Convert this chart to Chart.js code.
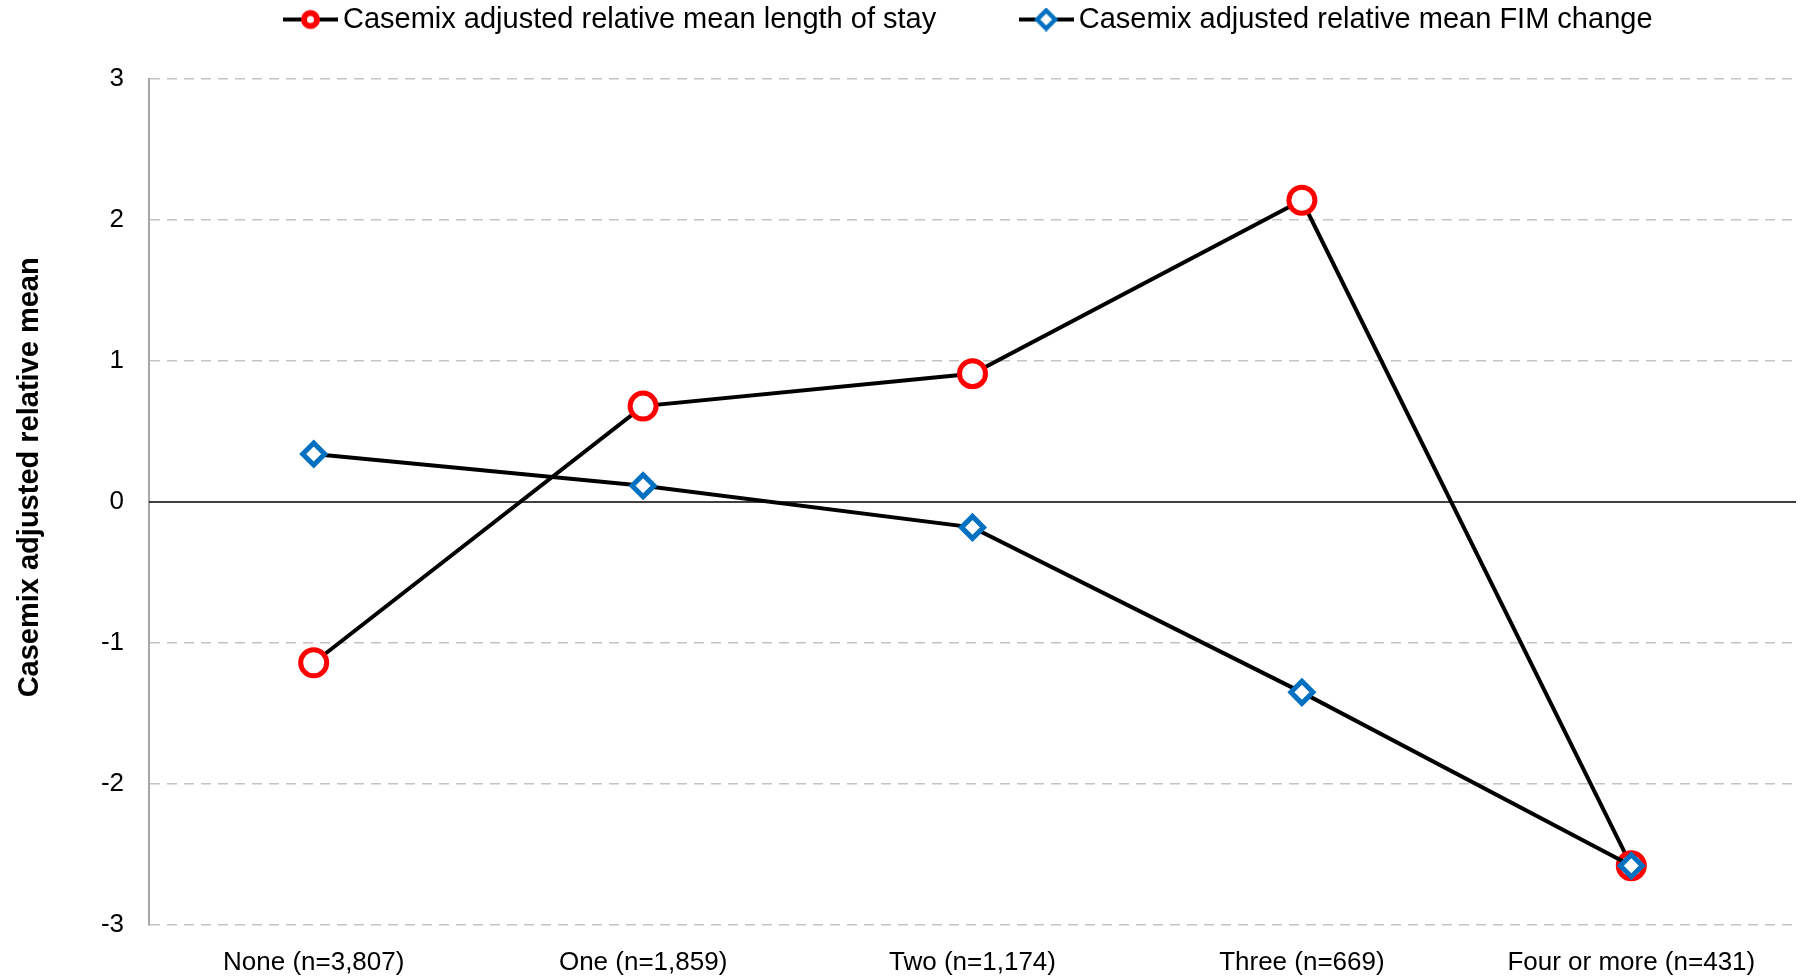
<!DOCTYPE html>
<html>
<head>
<meta charset="utf-8">
<script src="https://cdn.jsdelivr.net/npm/chart.js@4.4.1/dist/chart.umd.min.js"></script>
<style>
    html, body { margin: 0; padding: 0; background: #ffffff; overflow: hidden; }
    #wrap { width: 1814px; height: 978px; }
    canvas { display: block; }
</style>
</head>
<body>
<div id="wrap"><canvas id="chart" width="1814" height="978"></canvas></div>
<script>
// Chart data
const categories = ['None (n=3,807)', 'One (n=1,859)', 'Two (n=1,174)', 'Three (n=669)', 'Four or more (n=431)'];
const lengthOfStay = [-1.14, 0.68, 0.91, 2.14, -2.58];
const fimChange = [0.34, 0.115, -0.18, -1.35, -2.58];
const yTicks = [-3, -2, -1, 0, 1, 2, 3];
const seriesNames = ['Casemix adjusted relative mean length of stay', 'Casemix adjusted relative mean FIM change'];
const yTitle = 'Casemix adjusted relative mean';

const FONT = "'Liberation Sans', Arial, sans-serif";
const RED = '#ff0000';
const BLUE = '#0070c0';

// Small line + marker picture for the legend
function legendIcon(kind, color) {
    const c = document.createElement('canvas');
    c.width = 55;
    c.height = 24;
    const ctx = c.getContext('2d');
    ctx.strokeStyle = '#000';
    ctx.lineWidth = 4;
    ctx.beginPath();
    ctx.moveTo(0, 12);
    ctx.lineTo(55, 12);
    ctx.stroke();
    ctx.strokeStyle = color;
    ctx.fillStyle = '#fff';
    ctx.beginPath();
    if (kind === 'circle') {
        ctx.lineWidth = 6;
        ctx.arc(27.5, 12, 6.5, 0, Math.PI * 2);
    } else {
        ctx.lineWidth = 4.5;
        ctx.moveTo(27.5, 3);
        ctx.lineTo(36.5, 12);
        ctx.lineTo(27.5, 21);
        ctx.lineTo(18.5, 12);
        ctx.closePath();
    }
    ctx.fill();
    ctx.stroke();
    return c;
}
const icons = [legendIcon('circle', RED), legendIcon('diamond', BLUE)];

// Black solid line at zero, the other grid lines stay dashed
const zeroLine = {
    id: 'zeroLine',
    beforeDatasetsDraw(chart) {
        const y = chart.scales.y.getPixelForValue(0);
        const area = chart.chartArea;
        const ctx = chart.ctx;
        ctx.save();
        ctx.strokeStyle = '#000';
        ctx.lineWidth = 1.5;
        ctx.beginPath();
        ctx.moveTo(area.left, y);
        ctx.lineTo(area.right, y);
        ctx.stroke();
        ctx.restore();
    }
};

// Fix legend height so the plot starts where it does in the original
const legendHeight = {
    id: 'legendHeight',
    beforeUpdate(chart) {
        const lg = chart.legend;
        if (lg && !lg._fixed) {
            const fit = lg.fit;
            lg.fit = function () {
                fit.call(this);
                this.height = 79;
            };
            lg._fixed = true;
        }
    }
};

const chart = new Chart(document.getElementById('chart'), {
    type: 'line',
    data: {
        labels: categories,
        datasets: [{
            label: seriesNames[0],
            data: lengthOfStay,
            borderColor: '#000',
            borderWidth: 4,
            pointStyle: 'circle',
            pointRadius: 13,
            pointBorderWidth: 5,
            pointBorderColor: RED,
            pointBackgroundColor: '#fff',
            order: 1
        }, {
            label: seriesNames[1],
            data: fimChange,
            borderColor: '#000',
            borderWidth: 4,
            pointStyle: 'rectRot',
            pointRadius: 11,
            pointBorderWidth: 5,
            pointBorderColor: BLUE,
            pointBackgroundColor: '#fff',
            order: 0
        }]
    },
    options: {
        responsive: false,
        animation: false,
        layout: { padding: { right: 11 } },
        plugins: {
            tooltip: { enabled: false },
            legend: {
                position: 'top',
                fullSize: false,
                labels: {
                    usePointStyle: true,
                    pointStyleWidth: 36,
                    padding: 5,
                    color: '#000',
                    font: { family: FONT, size: 29 },
                    sort: (a, b) => a.datasetIndex - b.datasetIndex,
                    generateLabels(chart) {
                        return chart.data.datasets.map((ds, i) => ({
                            text: i === 0 ? ds.label + '\u2003\u2003\u2003' : ds.label,
                            pointStyle: icons[i],
                            datasetIndex: i,
                            fontColor: '#000',
                            lineWidth: 0,
                            strokeStyle: 'transparent',
                            fillStyle: 'transparent',
                            hidden: false
                        }));
                    }
                }
            }
        },
        scales: {
            x: {
                offset: true,
                grid: { display: false },
                border: { display: false },
                ticks: {
                    color: '#000',
                    padding: 14,
                    maxRotation: 0,
                    font: { family: FONT, size: 26 }
                },
                afterFit(scale) {
                    scale.height = 53;
                    scale.paddingLeft = 0;
                    scale.paddingRight = 0;
                }
            },
            y: {
                min: -3,
                max: 3,
                afterBuildTicks(scale) {
                    scale.ticks = yTicks.map(v => ({ value: v }));
                },
                grid: {
                    drawTicks: false,
                    lineWidth: 1.5,
                    color: ctx => (ctx.tick && ctx.tick.value === 0) ? 'rgba(0,0,0,0)' : '#c4c4c4'
                },
                border: { display: true, color: '#a6a6a6', width: 2, dash: [10, 7] },
                ticks: {
                    color: '#000',
                    padding: 25,
                    font: { family: FONT, size: 26 }
                },
                title: {
                    display: true,
                    // leading spaces nudge the title up a little, as in the original
                    text: '\u2003\u2002\u2009' + yTitle,
                    color: '#000',
                    padding: { top: 13, bottom: 0 },
                    font: { family: FONT, size: 29, weight: 'bold' }
                },
                afterFit(scale) { scale.width = 149; }
            }
        }
    },
    plugins: [zeroLine, legendHeight]
});
</script>
</body>
</html>
